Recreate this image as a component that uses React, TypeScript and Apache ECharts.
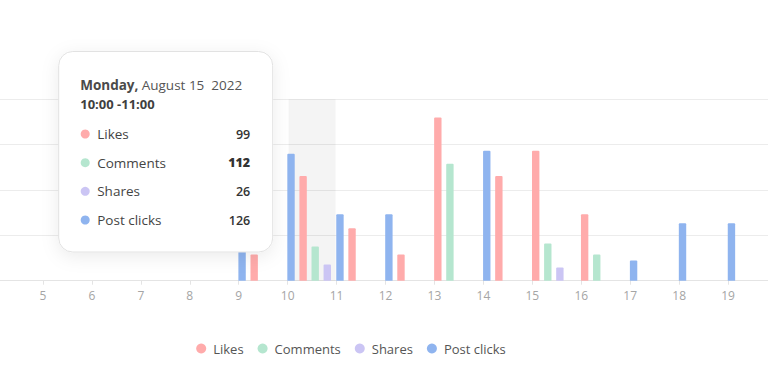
import React, { useEffect, useRef } from "react";
import * as echarts from "echarts";

// ---- data ----
const hours = ["5", "6", "7", "8", "9", "10", "11", "12", "13", "14", "15", "16", "17", "18", "19"];
const seriesNames = ["Likes", "Comments", "Shares", "Post clicks"];
const likes = [null, null, null, null, 26, 104, 52, 26, 162, 104, 129, 66, null, null, null];
const comments = [null, null, null, null, null, 34, null, null, 116, null, 37, 26, null, null, null];
const shares = [null, null, null, null, null, 16, null, null, null, null, 13, null, null, null, null];
const postClicks = [null, null, null, null, 66, 126, 66, 66, null, 129, null, null, 20, 57, 57];
const highlightHour = "10";
const tooltipTitleDay = "Monday,";
const tooltipTitleDate = "August 15\u00a0 2022";
const tooltipTime = "10:00 -11:00";
const tooltipValues = ["99", "112", "26", "126"];
const yMax = 180;
const yInterval = 45;

const colors: Record<string, string> = {
  Likes: "#ffabab",
  Comments: "#b5e6cf",
  Shares: "#cbc5f4",
  "Post clicks": "#8fb4ef",
};

const FONT = "'Open Sans', 'Noto Sans', sans-serif";
// chart canvas is shifted left so the first (empty) band is partly off-screen
const SHIFT = 6.2;
const W = 782.9;

export default function App() {
  const ref = useRef<HTMLDivElement>(null);

  useEffect(() => {
    if (!ref.current) return;
    const chart = echarts.init(ref.current, null, { renderer: "svg" });

    const xData = ["", ...hours];
    const valuesByName: Record<string, (number | null)[]> = {
      Likes: likes,
      Comments: comments,
      Shares: shares,
      "Post clicks": postClicks,
    };
    const packOrder = ["Post clicks", "Likes", "Comments", "Shares"];

    const buildData = (name: string) => {
      const out: number[][] = [];
      hours.forEach((_, i) => {
        const v = valuesByName[name][i];
        if (v == null) return;
        let slot = 0;
        for (const other of packOrder) {
          if (other === name) break;
          if (valuesByName[other][i] != null) slot++;
        }
        out.push([i + 1, v, slot]);
      });
      return out;
    };

    const renderItem = (params: any, api: any) => {
      const idx = api.value(0);
      const val = api.value(1);
      const slot = api.value(2);
      const base = api.coord([idx, 0]);
      const top = api.coord([idx, val]);
      const band = api.size([1, 0])[0];
      const x = base[0] - band / 2 + slot * band * 0.247 - 0.3;
      return {
        type: "rect",
        shape: { x, y: top[1], width: band * 0.151, height: base[1] - top[1], r: [1, 1, 0, 0] },
        style: { fill: api.visual("color") },
      };
    };

    const customSeries = seriesNames.map((name) => ({
      type: "custom",
      name,
      z: 3,
      renderItem,
      encode: { x: 0, y: 1 },
      itemStyle: { color: colors[name] },
      data: buildData(name),
    }));

    const X = (v: number) => v + SHIFT;
    const rowY = [134, 162.7, 191.3, 220];
    const tooltipChildren: any[] = [
      {
        type: "rect",
        z: 100,
        shape: { x: X(58.5), y: 51.5, width: 214, height: 200.5, r: 14 },
        style: {
          fill: "#ffffff",
          stroke: "#e2e2e2",
          lineWidth: 1,
          shadowBlur: 18,
          shadowColor: "rgba(0,0,0,0.08)",
          shadowOffsetY: 4,
        },
      },
      {
        type: "text",
        z: 101,
        x: X(80),
        y: 84.5,
        style: {
          text: `{b|${tooltipTitleDay}} {n|${tooltipTitleDate}}`,
          verticalAlign: "middle",
          rich: {
            b: { fontFamily: FONT, fontSize: 13.5, fontWeight: 700, fill: "#4a4a4a" },
            n: { fontFamily: FONT, fontSize: 13.5, fontWeight: 400, fill: "#555" },
          },
        },
      },
      {
        type: "text",
        z: 101,
        x: X(80),
        y: 103.5,
        style: {
          text: tooltipTime,
          fontFamily: FONT,
          fontSize: 13,
          fontWeight: 700,
          fill: "#3f3f3f",
          verticalAlign: "middle",
        },
      },
    ];
    seriesNames.forEach((name, i) => {
      tooltipChildren.push({
        type: "circle",
        z: 101,
        shape: { cx: X(85), cy: rowY[i], r: 4.5 },
        style: { fill: colors[name] },
      });
      tooltipChildren.push({
        type: "text",
        z: 101,
        x: X(97),
        y: rowY[i],
        style: {
          text: name,
          fontFamily: FONT,
          fontSize: 13.5,
          fill: "#444",
          verticalAlign: "middle",
        },
      });
      tooltipChildren.push({
        type: "text",
        z: 101,
        x: X(250),
        y: rowY[i],
        style: {
          text: tooltipValues[i],
          fontFamily: FONT,
          fontSize: 12.5,
          fontWeight: i === 1 ? 800 : 600,
          fill: "#333",
          align: "right",
          verticalAlign: "middle",
        },
      });
    });

    chart.setOption({
      animation: false,
      textStyle: { fontFamily: FONT },
      grid: { left: 0, right: 0, top: 99.3, bottom: 109.3, containLabel: false },
      legend: {
        data: seriesNames,
        left: X(191),
        top: 337,
        icon: "circle",
        itemWidth: 14,
        itemHeight: 10,
        itemGap: 14,
        textStyle: { fontFamily: FONT, fontSize: 13, color: "#555" },
      },
      xAxis: {
        type: "category",
        data: xData,
        boundaryGap: true,
        axisLine: { lineStyle: { color: "#e4e4e4" } },
        axisTick: { show: true, length: 4, lineStyle: { color: "#e4e4e4" } },
        axisLabel: {
          interval: 0,
          color: "#a5a5a5",
          fontSize: 12,
          fontFamily: FONT,
          margin: 9,
          padding: [0, 48.93, 0, 0],
        },
        splitLine: { show: false },
      },
      yAxis: {
        type: "value",
        min: 0,
        max: yMax,
        interval: yInterval,
        axisLabel: { show: false },
        axisLine: { show: false },
        axisTick: { show: false },
        splitLine: { lineStyle: { color: "#ececec" } },
      },
      series: [
        {
          type: "bar",
          name: "highlight",
          silent: true,
          z: 1,
          barWidth: "96%",
          itemStyle: { color: "rgba(0,0,0,0.045)" },
          data: xData.map((c) => (c === highlightHour ? yMax : null)),
        },
        ...customSeries,
      ],
      graphic: [{ type: "group", z: 100, children: tooltipChildren }],
    });

    return () => chart.dispose();
  }, []);

  return (
    <div
      ref={ref}
      style={{ position: "fixed", left: -SHIFT, top: 0, width: W, height: 390, background: "#fff" }}
    />
  );
}
